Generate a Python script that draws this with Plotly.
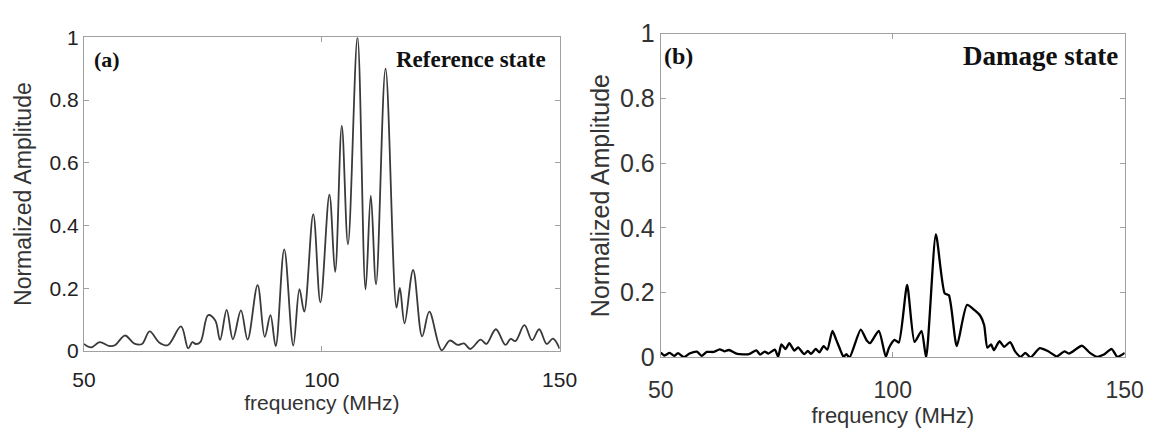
import plotly.graph_objects as go

# Panel (a): reference state spectrum (frequency in MHz, normalized amplitude)
freq_ref = [50.0, 51.5, 53.3, 55.2, 56.5, 58.6, 60.6, 62.2, 63.8, 65.8, 67.6, 70.4,
            71.9, 72.8, 73.5, 74.5, 76.1, 77.6, 78.6, 80.0, 81.3, 83.0, 84.4, 86.5,
            88.0, 89.2, 90.3, 92.1, 94.0, 95.3, 96.3, 98.2, 99.7, 101.6, 102.8, 104.2,
            105.5, 107.5, 109.2, 110.3, 111.4, 113.4, 115.7, 116.4, 117.4, 119.2, 121.1,
            122.6, 125.2, 126.9, 128.6, 129.9, 131.2, 133.4, 134.6, 136.6, 138.6, 139.7,
            140.7, 142.6, 144.2, 145.7, 147.3, 148.6, 150.0]
amp_ref = [0.022, 0.011, 0.028, 0.016, 0.018, 0.049, 0.023, 0.022, 0.062, 0.027, 0.018, 0.078,
           0.008, 0.028, 0.022, 0.029, 0.114, 0.097, 0.035, 0.131, 0.037, 0.129, 0.036, 0.210,
           0.045, 0.114, 0.015, 0.324, 0.017, 0.197, 0.125, 0.436, 0.155, 0.498, 0.252, 0.718,
           0.340, 1.000, 0.196, 0.495, 0.212, 0.900, 0.138, 0.201, 0.088, 0.258, 0.046,
           0.125, 0.002, 0.033, 0.019, 0.024, 0.006, 0.036, 0.022, 0.069, 0.019, 0.038,
           0.031, 0.082, 0.034, 0.069, 0.022, 0.039, 0.007]

# Panel (b): damage state spectrum
freq_dmg = [50.0, 50.8, 51.9, 52.9, 53.7, 55.0, 56.2, 57.8, 58.8, 59.9, 61.4, 62.7, 63.7,
            64.7, 66.5, 69.0, 70.6, 71.4, 72.4, 73.2, 74.6, 75.3, 76.0, 76.9, 77.7, 78.8,
            79.6, 80.9, 81.7, 82.4, 83.4, 84.2, 85.1, 85.9, 87.0, 87.8, 88.6, 89.4, 90.0,
            90.7, 93.1, 94.4, 95.1, 97.0, 98.5, 99.2, 100.4, 101.3, 103.1, 104.7, 106.2,
            107.2, 109.3, 111.2, 112.1, 113.8, 116.0, 117.7, 118.9, 119.7, 120.4, 121.2,
            121.8, 123.0, 124.0, 125.3, 126.4, 127.6, 128.6, 129.7, 131.7, 133.5, 135.4,
            137.0, 138.0, 140.8, 142.5, 144.1, 145.4, 147.2, 148.4, 150.0]
amp_dmg = [0.015, 0.006, 0.014, 0.005, 0.013, 0.001, 0.012, 0.018, 0.005, 0.017, 0.017, 0.025, 0.019,
           0.023, 0.011, 0.010, 0.022, 0.009, 0.018, 0.012, 0.024, 0.002, 0.040, 0.026, 0.044, 0.021,
           0.031, 0.010, 0.020, 0.011, 0.026, 0.016, 0.035, 0.024, 0.082, 0.055, 0.027, 0.002, 0.010,
           0.000, 0.086, 0.052, 0.044, 0.082, 0.002, 0.030, 0.054, 0.046, 0.224, 0.048, 0.081,
           0.000, 0.380, 0.198, 0.192, 0.035, 0.162, 0.145, 0.128, 0.100, 0.030, 0.040,
           0.022, 0.050, 0.033, 0.047, 0.018, 0.002, 0.014, 0.000, 0.029, 0.019, 0.003,
           0.019, 0.012, 0.036, 0.014, 0.002, 0.008, 0.026, 0.002, 0.014]

x_ticks = [50, 100, 150]
y_ticks = [0, 0.2, 0.4, 0.6, 0.8, 1]
y_tick_text = ["0", "0.2", "0.4", "0.6", "0.8", "1"]

W, H = 1169, 436
SANS = "Liberation Sans, Arial, sans-serif"
SERIF = "Liberation Serif, Times New Roman, serif"


def px_x(p):
    return p / W


def px_y(p):
    return 1 - p / H


fig = go.Figure()
fig.add_trace(go.Scatter(x=freq_ref, y=amp_ref, mode="lines", xaxis="x", yaxis="y",
                         line=dict(color="#3a3a3a", width=1.8, shape="spline", smoothing=1.0),
                         showlegend=False, hoverinfo="skip"))
fig.add_trace(go.Scatter(x=freq_dmg, y=amp_dmg, mode="lines", xaxis="x2", yaxis="y2",
                         line=dict(color="#000000", width=2.3, shape="spline", smoothing=0.6),
                         showlegend=False, hoverinfo="skip"))

axis_common = dict(showline=True, mirror="ticks", linecolor="#a0a0a0", linewidth=1,
                   ticks="inside", ticklen=5, tickcolor="#a0a0a0", showgrid=False,
                   zeroline=False, fixedrange=True)

fig.update_layout(
    width=W, height=H,
    margin=dict(l=0, r=0, t=0, b=0),
    paper_bgcolor="white", plot_bgcolor="white",
    xaxis=dict(domain=[px_x(73), px_x(562)], range=[50, 150], tickvals=x_ticks,
               anchor="y", tickfont=dict(family=SANS, size=21, color="#222"),
               ticklabelstandoff=10,
               title=dict(text="frequency (MHz)", font=dict(family=SANS, size=21, color="#333"),
                          standoff=3),
               **axis_common),
    yaxis=dict(domain=[px_y(360), px_y(25)], range=[0, 1], tickvals=y_ticks,
               ticktext=y_tick_text, anchor="x",
               tickfont=dict(family=SANS, size=21, color="#222"),
               title=dict(text="Normalized Amplitude", font=dict(family=SANS, size=23, color="#333"),
                          standoff=11),
               **axis_common),
    xaxis2=dict(domain=[px_x(666), px_x(1143)], range=[50, 150], tickvals=x_ticks,
                anchor="y2", tickfont=dict(family=SANS, size=23, color="#333"),
                ticklabelstandoff=12,
                title=dict(text="frequency (MHz)", font=dict(family=SANS, size=22, color="#333"),
                           standoff=2),
                **axis_common),
    yaxis2=dict(domain=[px_y(367), px_y(21)], range=[0, 1], tickvals=y_ticks,
                ticktext=y_tick_text, anchor="x2",
                tickfont=dict(family=SANS, size=25, color="#333"),
                title=dict(text="Normalized Amplitude", font=dict(family=SANS, size=25, color="#333"),
                           standoff=3),
                **axis_common),
)

panel_labels = [
    dict(text="<b>(a)</b>", x=px_x(81), y=px_y(49), xanchor="left", size=22),
    dict(text="<b>Reference state</b>", x=px_x(550), y=px_y(49), xanchor="right", size=23),
    dict(text="<b>(b)</b>", x=px_x(667), y=px_y(45), xanchor="left", size=24),
    dict(text="<b>Damage state</b>", x=px_x(1138), y=px_y(45), xanchor="right", size=27),
]
for lab in panel_labels:
    fig.add_annotation(text=lab["text"], x=lab["x"], y=lab["y"], xref="paper", yref="paper",
                       xanchor=lab["xanchor"], yanchor="middle", showarrow=False,
                       font=dict(family=SERIF, size=lab["size"], color="#111"))

fig.write_html("out.html")
